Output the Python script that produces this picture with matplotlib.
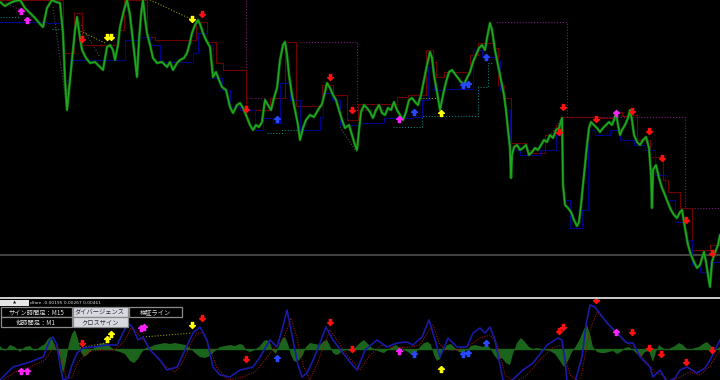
import matplotlib
matplotlib.use("Agg")
import matplotlib.pyplot as plt
from matplotlib.path import Path
from matplotlib.patches import Rectangle

plt.rcParams['font.family'] = ['Noto Sans CJK JP', 'DejaVu Sans']

# ---------------- main panel data (screen-depth units, axis inverted) -------------
price_x = [0, 5, 10, 15, 20, 25, 30, 35, 40, 43, 47, 52, 56, 60, 63, 65, 67, 70, 72, 75, 77, 80, 82, 86, 90,
           95, 100, 103, 107, 110, 113, 115, 118, 120, 124, 127, 130, 132, 135, 137, 139, 141, 143, 145, 147,
           150, 153, 157, 162, 167, 170, 173, 177, 180, 184, 187, 190, 192, 195, 198, 200, 203, 206, 210, 213,
           216, 219, 222, 226, 230, 233, 237, 240, 243, 246, 250, 253, 256, 259, 262, 265, 268, 271, 274, 277,
           280, 283, 285, 287, 289, 292, 295, 298, 300, 303, 306, 310, 314, 318, 322, 325, 327, 330, 333, 336,
           339, 342, 345, 349, 352, 355, 357, 359, 361, 364, 367, 370, 373, 376, 379, 382, 385, 388, 391, 394,
           397, 400, 403, 406, 409, 412, 415, 418, 421, 424, 427, 430, 432, 434, 437, 440, 443, 446, 449, 452,
           455, 458, 461, 464, 467, 470, 473, 476, 479, 482, 485, 487, 490, 492, 495, 498, 501, 504, 506, 508,
           510, 511, 512, 514, 517, 520, 523, 526, 529, 532, 535, 538, 541, 544, 547, 550, 553, 556, 559, 562,
           563, 565, 568, 571, 574, 577, 579, 581, 583, 585, 587, 589, 591, 594, 597, 600, 603, 606, 609, 612,
           614, 616, 618, 620, 622, 625, 628, 630, 632, 634, 637, 640, 643, 646, 649, 651, 652, 653, 656, 659,
           662, 665, 668, 671, 674, 677, 680, 682, 685, 688, 691, 694, 697, 700, 702, 704, 706, 708, 710, 712,
           714, 716, 718, 720]
price_y = [2, 6, 3, 1, 0, 8, 13, 18, 24, 27, 8, 0, 2, 3, 33, 80, 110, 80, 60, 30, 17, 38, 50, 58, 63,
           62, 67, 70, 47, 45, 50, 60, 45, 27, 10, 0, 15, 33, 60, 77, 40, 15, 0, 18, 33,
           45, 58, 63, 62, 67, 62, 70, 63, 60, 58, 53, 42, 33, 25, 20, 24, 33, 40, 47, 77,
           72, 80, 87, 90, 107, 113, 105, 103, 108, 115, 125, 130, 125, 127, 122, 100, 105, 110, 98, 88,
           60, 45, 42, 55, 75, 95, 110, 125, 140, 128, 120, 115, 117, 110, 104, 92, 83, 88, 95, 100,
           110, 120, 128, 125, 135, 145, 150, 130, 112, 105, 108, 112, 118, 110, 105, 113, 115, 108, 110, 102,
           110, 115, 120, 112, 100, 98, 102, 105, 95, 80, 65, 52, 58, 75, 92, 110, 95, 82, 72, 70,
           74, 78, 82, 84, 78, 72, 62, 55, 48, 45, 50, 38, 23, 30, 50, 65, 80, 95, 110, 130,
           148, 178, 155, 147, 145, 150, 148, 145, 155, 152, 148, 150, 145, 140, 142, 135, 138, 130, 128, 118,
           185, 205, 208, 212, 220, 226, 222, 205, 185, 165, 145, 128, 122, 125, 128, 132, 128, 125, 122, 125,
           120, 113, 125, 135, 130, 125, 118, 110, 120, 135, 142, 145, 140, 137, 148, 175, 208, 170, 165, 178,
           188, 195, 203, 210, 215, 218, 212, 210, 228, 245, 255, 262, 268, 265, 258, 252, 262, 275, 287, 262,
           255, 250, 245, 235]

red_x = [0, 63, 74, 82, 118, 124, 147, 155, 196, 207, 216, 223, 246, 270, 285, 296, 322, 333, 347, 358,
         397, 408, 426, 433, 436, 444, 470, 478, 493, 498, 504, 511, 526, 531, 545, 556, 562, 600, 615, 622,
         633, 637, 650, 663, 668, 680, 692, 700, 710, 720]
red_y = [0, 53, 13, 45, 30, 0, 37, 40, 22, 42, 63, 70, 110, 98, 42, 106, 85, 95, 120, 104,
         97, 95, 50, 62, 77, 72, 55, 43, 48, 85, 98, 143, 150, 153, 135, 125, 117, 118, 112, 116,
         115, 140, 157, 180, 192, 208, 250, 250, 245, 240]

blue_x = [0, 47, 63, 70, 103, 125, 138, 150, 160, 193, 198, 207, 213, 222, 230, 240, 255, 263, 273, 280,
          290, 300, 320, 323, 332, 340, 360, 384, 413, 422, 428, 434, 443, 473, 482, 495, 500, 505, 510, 520,
          540, 556, 563, 570, 582, 588, 595, 610, 620, 634, 645, 655, 665, 675, 685, 692, 700, 710, 720]
blue_y = [22, 23, 80, 60, 60, 40, 37, 45, 62, 53, 33, 45, 78, 90, 107, 110, 130, 118, 123, 83,
          100, 130, 117, 93, 100, 125, 123, 118, 117, 100, 67, 90, 89, 50, 57, 60, 90, 110, 150, 155,
          150, 135, 200, 228, 210, 130, 135, 130, 140, 145, 150, 175, 200, 222, 240, 265, 272, 262, 245]

zigzag_x = [53, 67, 78, 100, 127, 137, 340, 357, 545, 562]
zigzag_y = [7, 110, 20, 57, 0, 77, 127, 153, 143, 118]

purple_paths = [
    ([0, 20], [0, 10]),
    ([246, 246, 265], [0, 98, 98]),
    ([300, 357, 357, 393], [42, 42, 110, 110]),
    ([496, 567, 567, 685, 685, 720], [22, 22, 117, 117, 208, 208]),
]
teal_paths = [
    ([0, 20], [17, 17]),
    ([52, 62], [29, 29]),
    ([267, 282, 282, 298], [133, 133, 130, 130]),
    ([393, 422, 422, 478, 478, 488, 488, 493], [127, 127, 116, 116, 87, 87, 63, 63]),
]
yellow_paths = [
    ([78, 105], [30, 43]),
    ([150, 193], [0, 20]),
    ([420, 440], [98, 98]),
]

arrows_main = {
    'magenta_up': ([21, 27, 399, 616], [11, 20, 119, 113]),
    'blue_up': ([277, 414, 463, 468, 486], [119, 112, 85, 84, 57]),
    'yellow_up': ([441], [113]),
    'red_down': ([82, 202, 246, 330, 352, 563, 559, 596, 632, 649, 662, 686, 712],
                 [39, 14, 109, 77, 110, 107, 132, 119, 111, 131, 158, 220, 253]),
    'yellow_down': ([107, 111, 192], [37, 37, 19]),
}
level_line = 255

# ---------------- oscillator panel data ----------------
hist_x = [0, 5, 10, 15, 20, 25, 30, 35, 40, 45, 48, 51, 54, 57, 60, 63, 66, 69, 72, 75, 78, 81, 84, 87, 90,
          95, 100, 104, 108, 112, 116, 120, 125, 130, 134, 138, 142, 146, 150, 155, 160, 165, 170, 175, 180,
          185, 190, 195, 200, 205, 210, 215, 220, 225, 230, 235, 240, 243, 247, 250, 255, 260, 264, 267, 270,
          273, 276, 279, 282, 285, 288, 291, 294, 297, 300, 303, 306, 310, 315, 320, 324, 327, 330, 333, 336,
          339, 342, 346, 350, 355, 360, 364, 368, 372, 376, 380, 384, 388, 392, 396, 400, 404, 408, 412, 416,
          420, 424, 428, 431, 434, 437, 440, 443, 447, 451, 455, 459, 463, 467, 471, 475, 479, 483, 487, 490,
          494, 498, 502, 506, 510, 513, 517, 521, 525, 529, 533, 537, 541, 545, 550, 555, 560, 564, 568, 572,
          576, 580, 584, 587, 590, 593, 597, 601, 605, 609, 613, 617, 621, 625, 629, 633, 637, 641, 645, 649,
          653, 656, 659, 663, 667, 671, 675, 679, 683, 687, 691, 695, 699, 703, 707, 711, 715, 720]
hist_v = [3, -2, 4, 2, -3, 2, 3, -2, 2, 5, 10, 12, 6, -2, -8, -25, -12, 5, 15, 19, 10, -3, -8, -6, -3,
          2, 5, 6, 4, 1, -2, -3, -5, -12, -14, -10, -3, 1, 2, 4, 5, 6, 5, 6, 5,
          4, 1, -4, -8, -9, -7, -2, 2, 3, 4, 3, 5, 4, -2, -3, -1, 3, 8, 9, 6,
          -2, -5, 3, 10, 12, 5, -6, -12, -13, -10, -6, 2, 6, 5, 4, 8, 9, 3, -4, -6,
          -5, -2, -1, -2, 1, 6, 9, 5, 1, -1, -3, -4, -1, 2, 4, 1, -1, -3, -6, -4,
          2, 6, 7, 4, -6, -12, -10, -2, 4, 5, 1, -3, -4, -1, 3, 4, 3, 2, 4, 1,
          -6, -11, -9, -14, -16, -5, 6, 11, 7, 2, 0, 1, 0, -1, -2, -5, -12, -18, -12, -3,
          3, 10, 20, 24, 15, 2, -3, -4, -4, -3, -2, -5, -3, 1, 2, -1, -5, -8, -3, -2,
          -13, -3, 4, 1, -1, 1, 3, 6, 4, 0, -1, 1, 2, 5, 7, 3, -1, 2]

osc_x = [0, 13, 30, 43, 50, 53, 57, 60, 63, 68, 72, 77, 83, 93, 107, 117, 123, 128, 133, 138, 143, 150, 160,
         167, 177, 185, 193, 200, 207, 213, 220, 230, 240, 253, 260, 270, 277, 282, 287, 293, 298, 302, 307,
         314, 320, 326, 333, 343, 350, 357, 365, 377, 387, 397, 407, 413, 422, 429, 433, 440, 448, 457, 467,
         473, 480, 485, 490, 495, 499, 503, 510, 523, 533, 547, 558, 562, 565, 567, 575, 582, 586, 590, 595,
         607, 617, 627, 633, 640, 650, 653, 660, 667, 675, 680, 687, 697, 705, 710, 715, 720]
osc_v = [-31, -18, -13, -8, 9, 12, 4, -16, -31, -29, -16, -4, 1, 2, 4, 4, 16, 26, 21, 9, 12, -1, -11,
         -21, -18, -1, 16, 22, 9, -18, -26, -28, -21, -18, -8, 9, 2, 19, 39, 9, -16, -28, -24,
         -9, 6, 22, 9, -4, -13, -21, -1, 9, 2, 6, 7, 4, 12, 29, 16, -8, 11, 2, 2,
         16, 21, 16, 22, 9, -11, -31, -33, -21, -14, 4, 11, 9, -11, -33, -33, -8, 24, 44, 42,
         26, 16, 6, 6, -8, -18, -28, -21, -33, -29, -21, -18, -24, -19, -11, -1, 9]

sig_x = [0, 15, 30, 45, 55, 60, 66, 72, 78, 88, 100, 115, 125, 131, 137, 145, 155, 165, 175, 183, 190, 197,
         203, 210, 217, 228, 240, 255, 265, 275, 283, 291, 297, 303, 310, 318, 324, 330, 337, 347, 360, 370,
         382, 395, 410, 420, 426, 433, 440, 448, 458, 470, 480, 490, 497, 505, 515, 527, 540, 552, 562, 570,
         580, 590, 597, 605, 615, 625, 635, 645, 655, 663, 670, 680, 690, 700, 710, 720]
sig_v = [-33, -23, -18, -11, 4, -1, -29, -29, -13, -3, -1, -1, 9, 21, 16, 7, -6, -17, -23, -13, 4, 16,
         16, 1, -19, -31, -29, -23, -11, 2, 9, 31, 11, -16, -31, -13, 4, 19, 9, -6, -21, -6,
         4, 1, 2, 4, 14, 24, 4, -1, -1, 4, 11, 14, 6, -26, -33, -26, -11, 1, 4, -26,
         -33, 19, 37, 29, 17, 7, 1, -11, -23, -26, -33, -28, -23, -26, -17, -1]

osc_yellow_paths = [([80, 110], [1, 7]), ([143, 192], [12, 16])]

arrows_osc = {
    'magenta_up': ([21, 27, 141, 144, 399, 616], [-22, -22, 21, 22, -2, 17]),
    'blue_up': ([277, 414, 463, 468, 486], [-9, -5, -5, -4, 6]),
    'yellow_up': ([107, 111, 441], [10, 15, -20]),
    'red_down': ([82, 202, 246, 330, 352, 559, 563, 596, 632, 649, 661, 686, 712],
                 [6, 31, -10, 27, 0, 18, 22, 49, 17, 1, -5, -13, -1]),
    'yellow_down': ([192], [24]),
}

header_text = "dfare -0.00195 0.00267 0.00461"
buttons = [
    ("サイン時間足：M15", 0, 307, 72, 10, False),
    ("ダイバージェンス", 72, 307, 56, 10, True),
    ("検証ライン", 128, 307, 54, 10, False),
    ("他時間足：M1", 0, 317, 72, 10, False),
    ("クロスサイン", 72, 317, 56, 10, True),
]

# ---------------- markers ----------------
up_verts = [(0, 1), (0.95, 0.05), (0.38, 0.05), (0.38, -1), (-0.38, -1), (-0.38, 0.05), (-0.95, 0.05), (0, 1)]
UP = Path(up_verts, [Path.MOVETO] + [Path.LINETO] * 6 + [Path.CLOSEPOLY])
DOWN = Path([(x, -y) for x, y in up_verts], [Path.MOVETO] + [Path.LINETO] * 6 + [Path.CLOSEPOLY])
arrow_style = {
    'magenta_up': ('#ff22ff', UP),
    'blue_up': ('#2848ff', UP),
    'yellow_up': ('#ffff00', UP),
    'red_down': ('#ff1010', DOWN),
    'yellow_down': ('#ffff00', DOWN),
}
MS = 4.3

W, H = 720, 380
fig = plt.figure(figsize=(7.2, 3.8), dpi=100, facecolor='black')

# main panel: screen rows 0..296
ax = fig.add_axes([0, (H - 296) / H, 1, 296 / H])
ax.set_facecolor('black')
ax.set_xlim(0, 720)
ax.set_ylim(296, 0)
ax.axis('off')

ax.axhline(level_line, color='#4a4a4a', lw=1.3, zorder=1)
for xs, ys in purple_paths:
    ax.plot(xs, ys, color='#7a1a7a', lw=0.8, ls=(0, (1, 1.6)), zorder=2)
for xs, ys in teal_paths:
    ax.plot(xs, ys, color='#0a7a7a', lw=0.8, ls=(0, (1, 1.6)), zorder=2)
for xs, ys in yellow_paths:
    ax.plot(xs, ys, color='#909000', lw=0.8, ls=(0, (1, 1.6)), zorder=2)
for i in range(0, len(zigzag_x), 2):
    ax.plot(zigzag_x[i:i + 2], zigzag_y[i:i + 2], color='#4a4a4a', lw=0.8, ls=(0, (1, 1.6)), zorder=2)

ax.step(red_x, red_y, where='post', color='#6e0000', lw=0.8, zorder=3)
ax.step(blue_x, blue_y, where='post', color='#00008a', lw=0.8, zorder=3)
ax.plot(price_x, price_y, color='#0c5e0c', lw=2.0, zorder=4, solid_joinstyle='round')
ax.plot(price_x, price_y, color='#20a820', lw=1.1, zorder=5, solid_joinstyle='round')

for key, (xs, ys) in arrows_main.items():
    c, m = arrow_style[key]
    ax.plot(xs, ys, ls='none', marker=m, ms=MS, color=c, mec=c, zorder=6)

# oscillator panel: screen rows 299..380, zero at row 349
ao = fig.add_axes([0, 0, 1, 81 / H])
ao.set_facecolor('black')
ao.set_xlim(0, 720)
ao.set_ylim(-31, 50)
ao.axis('off')
ao.fill_between(hist_x, 0, hist_v, color='#1b641b', lw=0, zorder=1)
ao.axhline(0, color='#1b641b', lw=1.0, zorder=1)
for xs, ys in osc_yellow_paths:
    ao.plot(xs, ys, color='#909000', lw=0.8, ls=(0, (1, 1.6)), zorder=2)
ao.plot(sig_x, sig_v, color='#961414', lw=0.8, ls=(0, (1, 1.2)), zorder=3)
ao.plot(osc_x, osc_v, color='#1a1aa8', lw=1.2, zorder=4)
for key, (xs, ys) in arrows_osc.items():
    c, m = arrow_style[key]
    ao.plot(xs, ys, ls='none', marker=m, ms=MS, color=c, mec=c, zorder=6)

# overlay for panel UI
ui = fig.add_axes([0, 0, 1, 1], zorder=10)
ui.set_xlim(0, W)
ui.set_ylim(H, 0)
ui.axis('off')
ui.patch.set_alpha(0)
ui.add_patch(Rectangle((0, 296.5), W, 2.5, facecolor='#c8c8c8', edgecolor='none'))
ui.add_patch(Rectangle((0, 299), 190, 8, facecolor='black', edgecolor='none'))
ui.add_patch(Rectangle((0, 299.8), 29, 6.4, facecolor='#e6e6e6', edgecolor='none'))
ui.text(14.5, 303, "▲", fontsize=3, color='#202020', ha='center', va='center', family='DejaVu Sans')
ui.text(30, 303, header_text, fontsize=3.2, color='#d8d8d8', ha='left', va='center', family='DejaVu Sans')
for label, x0, y0, w, h, light in buttons:
    face = '#d9d9e2' if light else '#000000'
    edge = '#8a8a8a'
    tc = '#303038' if light else '#e0e0e0'
    ui.add_patch(Rectangle((x0 + 0.5, y0), w - 1, h, facecolor=face, edgecolor=edge, lw=0.9))
    ui.text(x0 + w / 2, y0 + h / 2 + 0.3, label, fontsize=4.5, color=tc, ha='center', va='center')

fig.savefig('out.png', dpi=100, facecolor='black')
